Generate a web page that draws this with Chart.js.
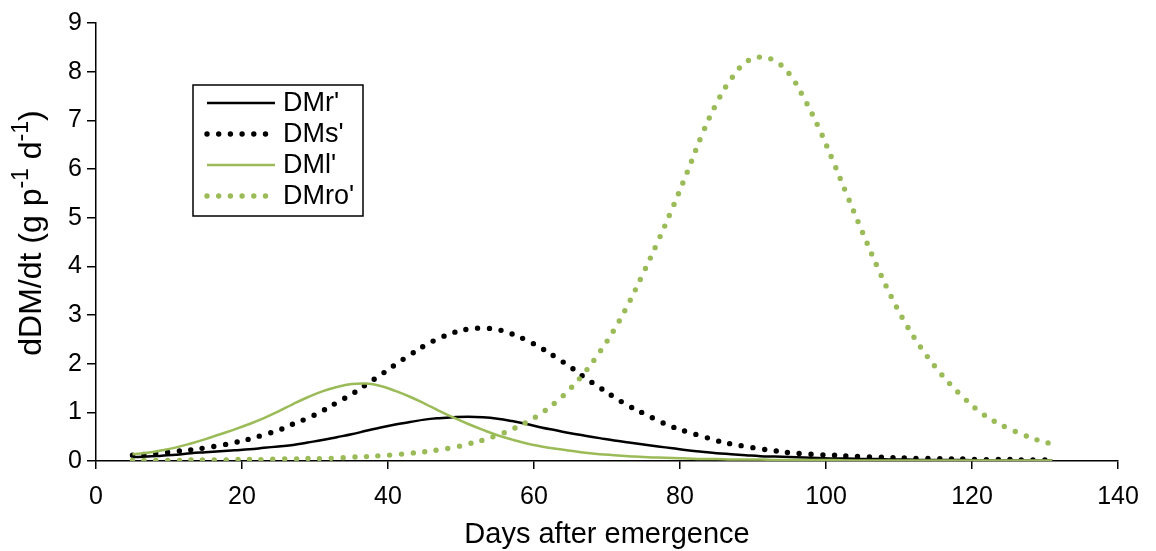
<!DOCTYPE html>
<html>
<head>
<meta charset="utf-8">
<script src="https://cdn.jsdelivr.net/npm/chart.js@4.4.0/dist/chart.umd.min.js"></script>
<style>
  html, body { margin: 0; padding: 0; background: #fff; }
  #wrap { width: 1156px; height: 551px; }
</style>
</head>
<body>
<div id="wrap"><canvas id="chart" width="1156" height="551"></canvas></div>
<script>
const FONT = '"Liberation Sans", Arial, sans-serif';
const GREEN = '#9BBB59';

// days after emergence
const days = [5, 7, 9, 11, 13, 15, 17, 19, 21, 23, 25, 27, 29, 31, 33, 35, 37, 39, 41, 43,
  45, 47, 49, 51, 53, 55, 57, 59, 61, 63, 65, 67, 69, 71, 73, 75, 77, 79, 81, 83,
  85, 87, 89, 91, 93, 95, 97, 99, 101, 103, 105, 107, 109, 111, 113, 115, 117, 119, 121, 123,
  125, 127, 129, 131];

// dDM/dt (g p-1 d-1) per organ
const dmr = [0.08, 0.09, 0.11, 0.13, 0.16, 0.18, 0.20, 0.22, 0.24, 0.27,
  0.30, 0.33, 0.38, 0.43, 0.49, 0.55, 0.62, 0.69, 0.75, 0.80,
  0.85, 0.88, 0.90, 0.91, 0.90, 0.87, 0.82, 0.76, 0.69, 0.63,
  0.57, 0.52, 0.47, 0.42, 0.38, 0.34, 0.30, 0.26, 0.22, 0.19,
  0.16, 0.14, 0.12, 0.10, 0.09, 0.08, 0.07, 0.06, 0.05, 0.05,
  0.04, 0.04, 0.03, 0.03, 0.02, 0.02, 0.02, 0.02, 0.01, 0.01,
  0.01, 0.01, 0.01, 0.01];

const dms = [0.12, 0.14, 0.17, 0.20, 0.23, 0.27, 0.32, 0.38, 0.45, 0.54,
  0.63, 0.76, 0.88, 1.03, 1.20, 1.37, 1.57, 1.77, 1.98, 2.18,
  2.37, 2.52, 2.64, 2.71, 2.73, 2.70, 2.61, 2.48, 2.32, 2.13,
  1.93, 1.71, 1.51, 1.31, 1.13, 0.98, 0.83, 0.70, 0.60, 0.51,
  0.42, 0.35, 0.30, 0.25, 0.21, 0.17, 0.15, 0.13, 0.12, 0.10,
  0.09, 0.08, 0.07, 0.06, 0.05, 0.05, 0.04, 0.04, 0.03, 0.03,
  0.03, 0.02, 0.02, 0.02];

const dml = [0.14, 0.17, 0.22, 0.28, 0.36, 0.45, 0.55, 0.65, 0.76, 0.88,
  1.02, 1.17, 1.31, 1.43, 1.52, 1.58, 1.59, 1.54, 1.44, 1.32,
  1.18, 1.03, 0.89, 0.76, 0.64, 0.53, 0.44, 0.36, 0.30, 0.25,
  0.21, 0.17, 0.14, 0.12, 0.10, 0.08, 0.07, 0.06, 0.05, 0.04,
  0.04, 0.03, 0.03, 0.03, 0.02, 0.02, 0.02, 0.02, 0.02, 0.01,
  0.01, 0.01, 0.01, 0.01, 0.01, 0.01, 0.01, 0.01, 0.01, 0.01,
  0.01, 0.01, 0.01, 0.01];

const dmro = [0.01, 0.01, 0.01, 0.01, 0.02, 0.02, 0.02, 0.03, 0.03, 0.03,
  0.04, 0.04, 0.05, 0.05, 0.06, 0.08, 0.09, 0.11, 0.13, 0.16,
  0.19, 0.23, 0.28, 0.35, 0.43, 0.53, 0.65, 0.80, 0.98, 1.21,
  1.49, 1.83, 2.24, 2.70, 3.25, 3.87, 4.52, 5.21, 5.94, 6.70,
  7.35, 7.85, 8.19, 8.30, 8.22, 7.95, 7.45, 6.85, 6.15, 5.42,
  4.70, 4.00, 3.36, 2.80, 2.33, 1.93, 1.58, 1.28, 1.02, 0.82,
  0.67, 0.54, 0.43, 0.35];

const labels = ["DMr'", "DMs'", "DMl'", "DMro'"];
const xTitle = 'Days after emergence';

const pts = (arr) => arr.map((v, i) => ({ x: days[i], y: v }));

const solid = (label, data, color, order) => ({
  label, data: pts(data), borderColor: color, borderWidth: 2.5,
  pointRadius: 0, tension: 0.4, fill: false, order,
});
const dotted = (label, data, color, order) => ({
  label, data: pts(data), borderColor: color, borderWidth: 5.4,
  borderDash: [0, 11.7], borderCapStyle: 'round',
  pointRadius: 0, tension: 0.4, fill: false, order,
});

// legend drawn inside plot like the excel one
const legendBox = {
  id: 'legendBox',
  afterDatasetsDraw(chart) {
    const c = chart.ctx;
    c.save();
    c.fillStyle = '#fff';
    c.fillRect(193, 85, 170, 131);
    c.strokeStyle = '#000';
    c.lineWidth = 1.5;
    c.strokeRect(193, 85, 170, 131);
    chart.data.datasets.forEach((ds, i) => {
      const y = 103 + i * 31;
      c.beginPath();
      c.setLineDash(ds.borderDash || []);
      c.lineCap = ds.borderCapStyle || 'butt';
      c.lineWidth = ds.borderWidth;
      c.strokeStyle = ds.borderColor;
      c.moveTo(207, y);
      c.lineTo(275, y);
      c.stroke();
      c.setLineDash([]);
      c.fillStyle = '#000';
      c.font = '27px ' + FONT;
      c.textBaseline = 'middle';
      c.textAlign = 'left';
      c.fillText(ds.label, 283, y + 1);
    });
    c.restore();
  }
};

// y title with superscripts
const yTitle = {
  id: 'yTitle',
  afterDraw(chart) {
    const c = chart.ctx;
    const parts = [
      ['dDM/dt (g p', false], ['-1', true], [' d', false], ['-1', true], [')', false]
    ];
    const big = '32px ' + FONT, small = '23px ' + FONT;
    let w = 0;
    parts.forEach(([t, sup]) => { c.font = sup ? small : big; w += c.measureText(t).width; });
    c.save();
    c.translate(32, 233);
    c.rotate(-Math.PI / 2);
    c.fillStyle = '#000';
    c.textBaseline = 'middle';
    c.textAlign = 'left';
    let x = -w / 2;
    parts.forEach(([t, sup]) => {
      c.font = sup ? small : big;
      c.fillText(t, x, sup ? -10 : 0);
      x += c.measureText(t).width;
    });
    c.restore();
  }
};

new Chart(document.getElementById('chart'), {
  type: 'line',
  data: {
    datasets: [
      solid(labels[0], dmr, '#000', 4),
      dotted(labels[1], dms, '#000', 3),
      solid(labels[2], dml, GREEN, 2),
      dotted(labels[3], dmro, GREEN, 1),
    ],
  },
  options: {
    responsive: false,
    devicePixelRatio: 1,
    animation: false,
    layout: { padding: { top: 23, right: 38, left: 0, bottom: 0 } },
    plugins: { legend: { display: false }, tooltip: { enabled: false } },
    scales: {
      x: {
        type: 'linear',
        min: 0, max: 140,
        afterFit: (s) => { s.height = 90; },
        ticks: { stepSize: 20, color: '#000', font: { family: FONT, size: 25 }, padding: 13, maxRotation: 0 },
        grid: { drawOnChartArea: false, tickLength: 8, color: '#000', lineWidth: 1.5 },
        border: { color: '#000', width: 1.5 },
        title: { display: true, text: xTitle, color: '#000', font: { family: FONT, size: 29, lineHeight: 1 }, padding: { top: 0, bottom: 2 } },
      },
      y: {
        min: 0, max: 9,
        afterFit: (s) => { s.width = 96; },
        ticks: { stepSize: 1, color: '#000', font: { family: FONT, size: 25 }, padding: 5 },
        grid: { drawOnChartArea: false, tickLength: 9, color: '#000', lineWidth: 1.5 },
        border: { color: '#000', width: 1.5 },
      },
    },
  },
  plugins: [legendBox, yTitle],
});
</script>
</body>
</html>
